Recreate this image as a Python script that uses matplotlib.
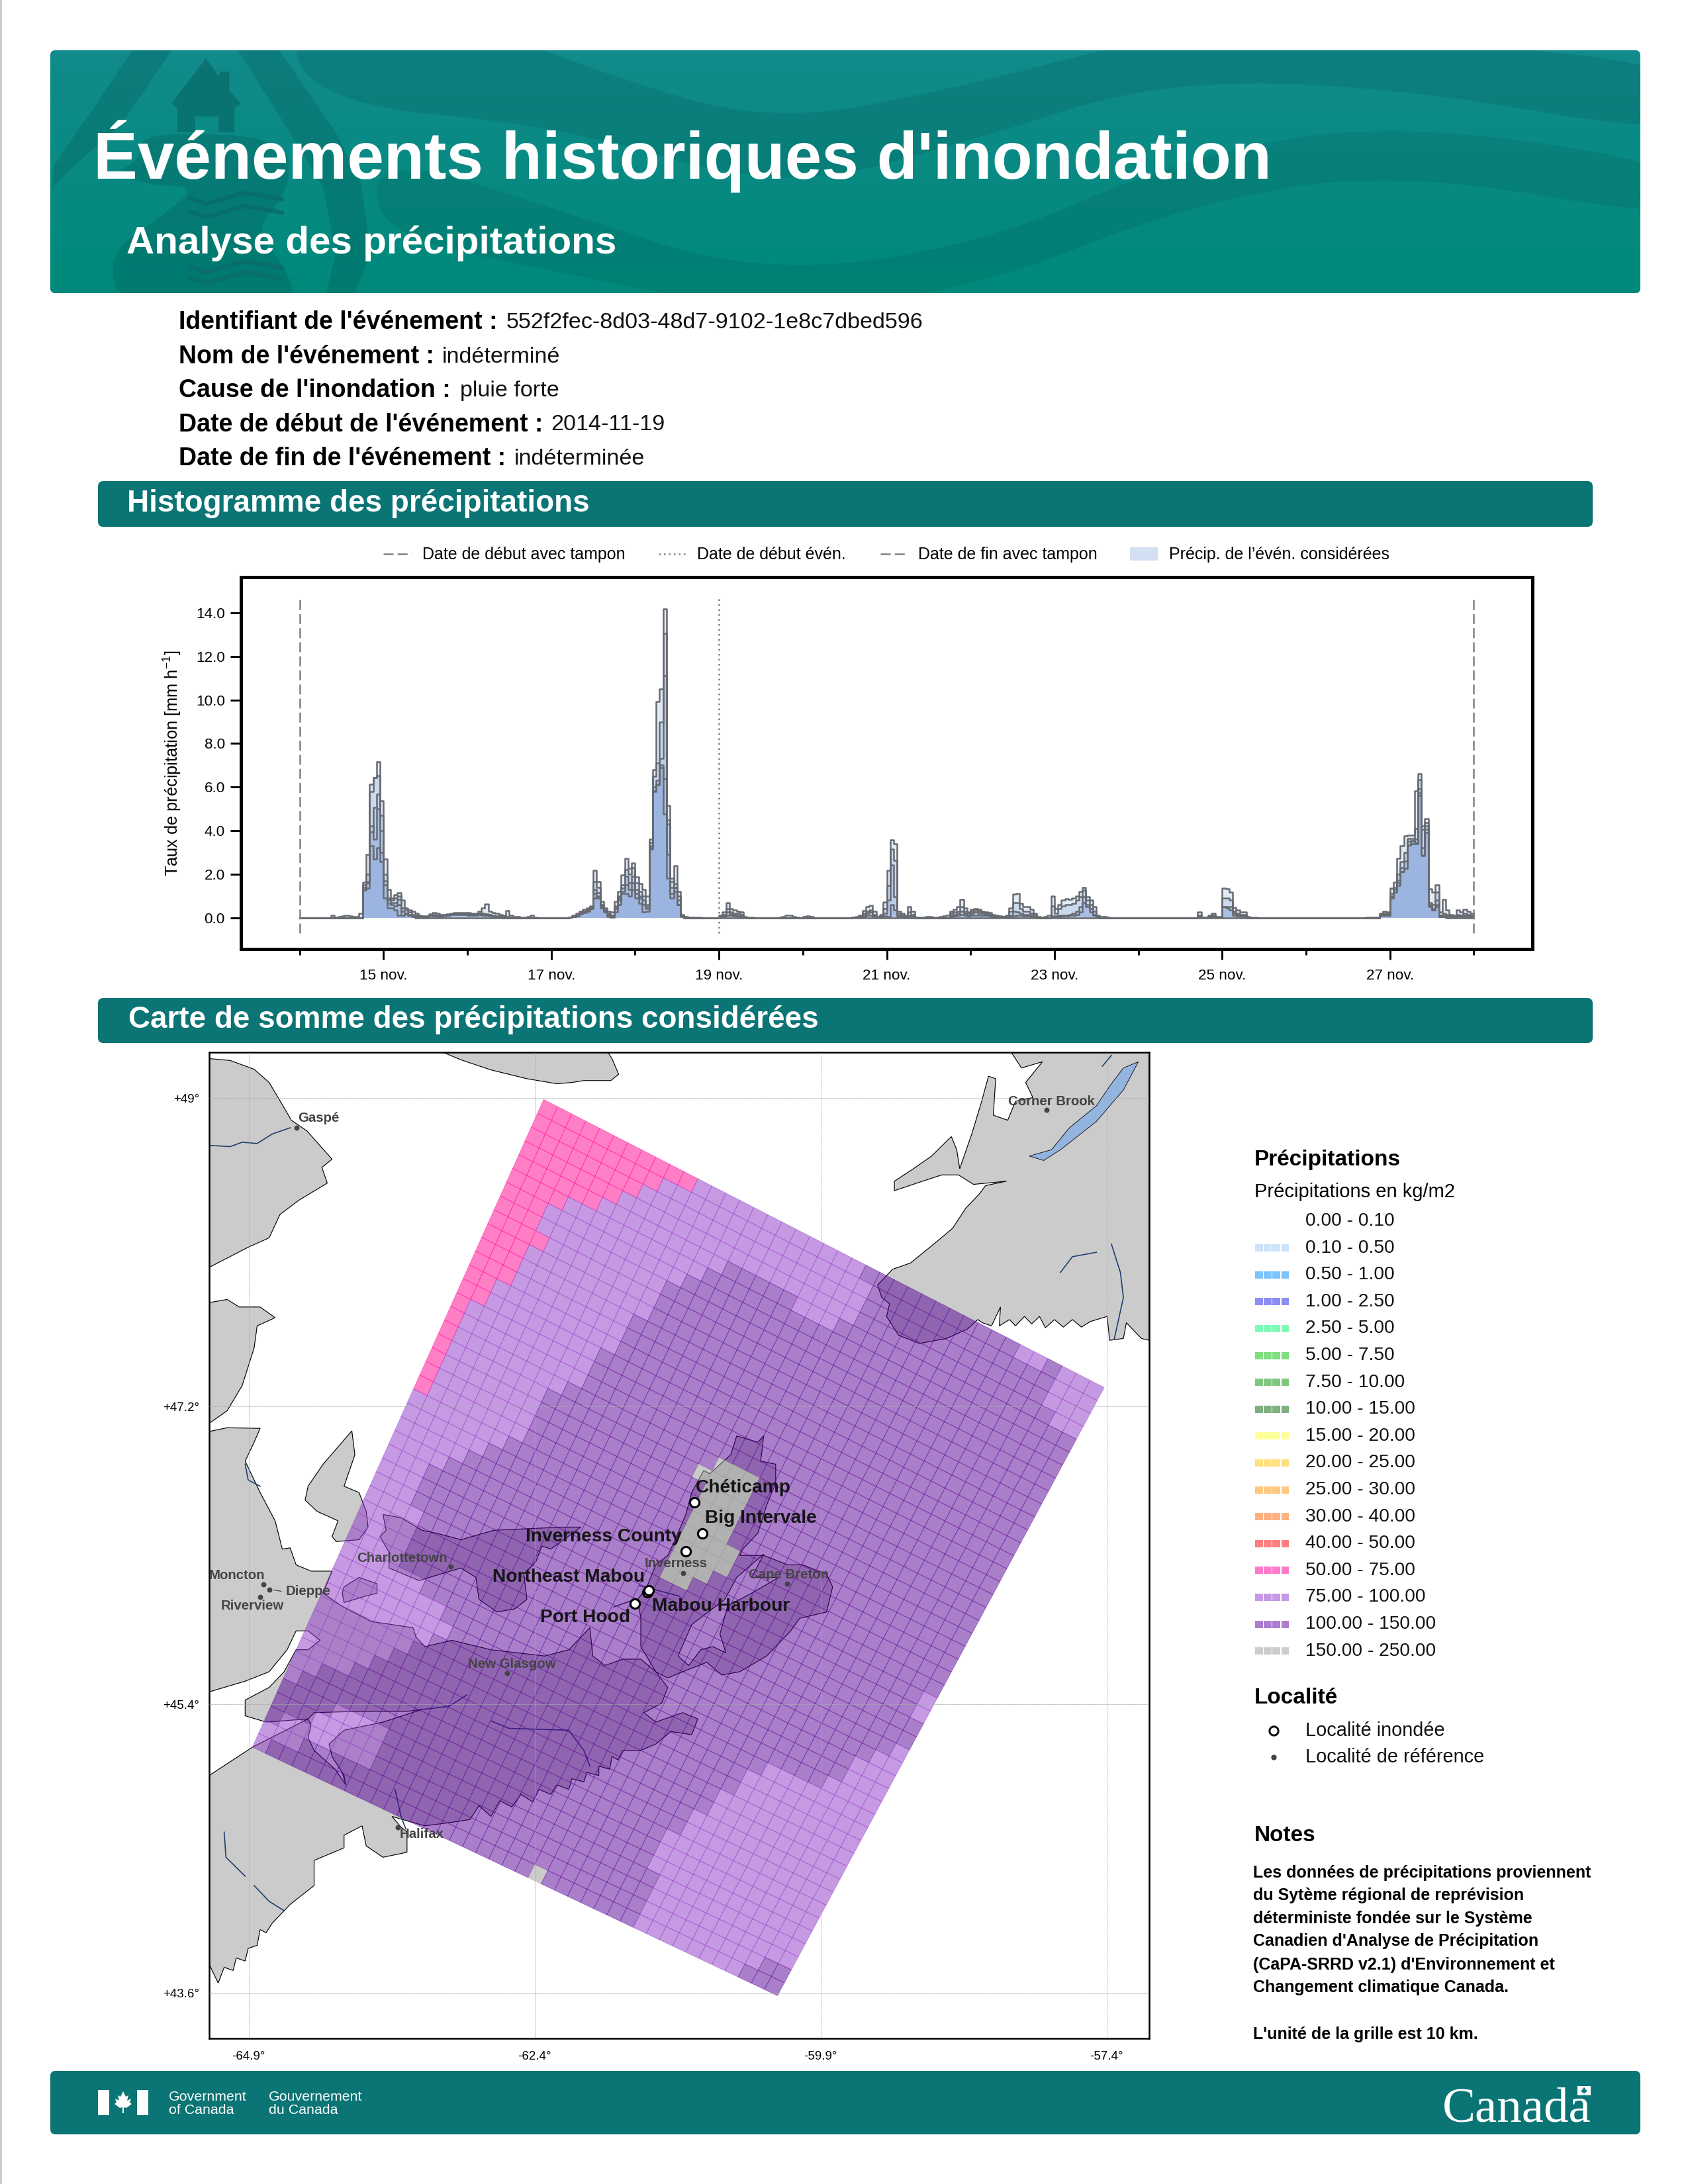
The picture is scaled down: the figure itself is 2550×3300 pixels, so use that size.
import re
import numpy as np
import matplotlib
matplotlib.use('Agg')
import matplotlib.pyplot as plt
from matplotlib.collections import PolyCollection
from matplotlib.patches import FancyBboxPatch, Polygon, Rectangle

plt.rcParams['font.family'] = ['Liberation Sans', 'DejaVu Sans']
plt.rcParams['mathtext.default'] = 'regular'

W, H = 2550, 3300
TEAL = '#0b7474'

# hourly rain, one list per locality, {first hour: values}, 0 elsewhere
series_a = {9: [.12, .03, .05, .08, .1, .08, .05, .06, .2],
            18: [1.64, 2.92, 6.13, 6.43, 7.17, 5.37, 2.7, 1.29, .91, 1.06, 1.14, .81, .45, .35, .3, .2, .12, .08, .05, .1, .22, .2, .15, .12, .12, .2, .22, .22, .22, .22, .22, .2, .18, .18, .45, .64, .3, .22, .2, .15, .1, .32, .12, .05, .05, .03, .03, .05, .1, .03],
            77: [.03, .1, .2, .3, .37, .45, .55, 2.18, 1.67, .76, .45, .3, .25, .76, 1.2, 1.97, 2.73, 2.28, 2.5, 1.87, 1.57, 1.3, 1.0, 3.6, 6.8, 9.93, 10.5, 14.18, 5.17, 1.67, 2.38, 1.0, .15, .05, .03, .01, .03, .01],
            120: [.1, .25, .69, .4, .35, .3, .25, .05, .02, .01],
            137: [.02, .05, .1, .1, .05, .02], 144: [.05, .08, .05],
            158: [.03, .06, .1, .32, .49, .56, .28, .06, .14, .73, 2.18, 3.57, 3.39, .3, .2, .1, .5, .28, .02, .01, .02, .05, .05, .03, .02, .05, .08, .1, .28, .37, .5, .83, .45, .25, .38, .42, .38, .3, .27, .22, .15, .1, .08, .06, .1, .43, 1.08, 1.11, .66, .49, .5, .37, .2, .05, .02, .05, .1, 1.0, .4, .6, .81, .86, .85, .9, 1.0, 1.2, 1.38, .95, .8, .5, .1, .05, .04, .03],
            257: [.25, .03, .03, .1, .2, .05, .05, 1.35, 1.32, 1.17, .46, .35, .25, .25, .05, .03, .01],
            305: [.02, .03, .02, .01, .2, .28, .25, 1.37, 1.62, 2.73, 3.3, 3.75, 3.8, 3.8, 5.83, 6.6, 4.2, 4.56, 1.32, 1.17, 1.52, .25, .84, .35, .15, .1, .35, .25, .38, .3, .2]}
series_b = {18: [1.5, 1.98, 5.78, 6.43, 6.53, 4.7, 1.98, .9, .8, .9, 1.0, .45, .35, .25, .15, .1, .05, .05, .08, .17, .14, .1, .1, .15, .18, .18, .18, .18, .18, .18, .16, .16, .2, .3, .2, .18, .15, .1, .08, .1, .1, .05, .03, .03],
            77: [.02, .08, .15, .25, .3, .38, .5, 1.67, 1.4, .6, .35, .2, .1, .55, 1.0, 1.5, 2.2, 2.0, 2.3, 1.6, 1.2, 1.0, .6, 3.45, 6.5, 7.1, 8.97, 13.07, 4.5, 1.4, 1.4, .6, .1, .03],
            120: [.05, .15, .4, .25, .2, .2, .15, .03],
            158: [.02, .03, .06, .2, .3, .35, .15, .03, .08, .4, 1.47, 3.14, 2.63, .2, .12, .05, .25, .15, .01],
            186: [.2, .25, .3, .5, .3, .2, .3, .35, .3, .25, .2, .18, .12, .08, .06, .05, .08, .3, .7, .7, .4, .3, .3, .2, .1, .03],
            215: [.55, .2, .4, .55, .6, .6, .65, .8, .95, 1.25, .8, .6, .3, .05],
            257: [.1, .02, .02, .05, .1, .03, .03, .9, .9, .8, .3, .2, .15, .15, .03],
            309: [.15, .2, .2, 1.1, 1.4, 2.0, 2.58, 3.0, 3.65, 3.65, 4.1, 6.33, 4.05, 4.35, .7, .6, 1.16, .1, .2, .15, .1, .05, .15, .1, .2, .15, .1]}
series_c = {18: [1.4, 1.67, 3.95, 5.07, 5.67, 3.0, 1.7, .65, .6, .55, .85, .1, .2, .15, .1, .05, .03, .03, .05, .12, .1, .08, .08, .1, .15, .16, .16, .16, .16, .16, .14, .14, .15, .2, .15, .12, .1, .08, .06, .05, .05],
            77: [.01, .05, .1, .2, .25, .33, .45, 1.3, 1.15, .5, .3, .1, .05, .4, .9, 1.2, 1.9, 1.3, 1.9, 1.3, 1.0, .6, .4, 3.2, 5.8, 6.1, 7.3, 11.1, 2.9, 1.1, 1.57, .8, .08],
            120: [.03, .1, .25, .18, .15, .12, .1, .02],
            158: [.01, .02, .04, .12, .2, .25, .1, .02, .05, .2, .8, 2.43, .96, .1, .08, .03, .12, .08],
            186: [.1, .15, .2, .3, .2, .12, .2, .25, .2, .2, .15, .12, .08, .05, .04, .03, .04, .1, .3, .25, .2, .15, .15, .1, .05],
            215: [.08, .08, .1, .12, .12, .15, .2, .3, .5, .95, .6, .4, .15, .03],
            257: [.05, .01, .01, .03, .05, .02, .02, .5, .5, .5, .2, .15, .1, .1, .02],
            309: [.12, .18, .15, .91, 1.16, 1.72, 2.13, 2.28, 3.34, 3.55, 3.45, 5.72, 2.89, 4.05, .56, .35, .6, .05, .1, .08, .05, .03, .1, .08, .1, .1, .05]}
series_d = {18: [1.27, 1.37, 3.3, 2.68, 3.2, 2.58, .9, .45, .45, .35, .1, .1, .2, .12, .08, .03, .02, .02, .03, .1, .08, .06, .06, .08, .12, .14, .14, .14, .14, .14, .12, .12, .12, .14, .1, .1, .08, .06, .05, .03],
            77: [.01, .04, .08, .18, .22, .3, .42, .9, 1.0, .45, .25, .05, .03, .25, .6, 1.1, 1.1, 1.0, 1.3, .9, .65, .25, .3, 3.14, 5.83, 6.13, 6.9, 6.38, 1.8, .9, 1.2, .6, .05],
            120: [.02, .05, .12, .1, .08, .06, .05, .01],
            158: [.01, .01, .02, .05, .1, .12, .05, .01, .03, .08, .05, .6, .35, .05, .04, .02, .05, .03],
            186: [.05, .08, .1, .15, .1, .08, .1, .12, .12, .12, .1, .08, .05, .04, .03, .02, .02, .04, .08, .1, .1, .08, .08, .05, .02],
            215: [.05, .05, .06, .07, .08, .1, .12, .15, .25, .7, .5, .25, .1, .02],
            257: [.03, .01, .01, .02, .03, .01, .01, .5, .45, .35, .1, .08, .05, .05],
            309: [.1, .15, .12, .91, 1.16, 1.47, 2.13, 2.28, 3.34, 3.4, 3.4, 5.6, 2.85, 3.9, .5, .35, .5, .05, .05, .05, .02, .02, .05, .05, .05, .05, .03]}
series_e = {18: [1.3, 1.6, 4.2, 3.6, 5.0, 4.0, 1.5, .8, .7, .7, .6, .3, .2, .1, .05],
            77: [.02, .06, .12, .22, .28, .35, .48, 1.1, .9, .55, .3, .15, .1, .5, .8, 1.35, 1.5, 1.6, 1.6, 1.1, .9, .8, .5, 3.3, 6.0, 6.3, 7.0, 4.76, 4.3, 1.8, 1.4, 1.2, .1],
            309: [.1, .12, .1, 1.0, 1.3, 1.6, 2.3, 2.6, 3.5, 3.5, 3.6, 5.9, 3.2, 4.2, .6, .4, .8, .05, .05]}
all_series = [series_a, series_b, series_c, series_d, series_e]

y_ticks = [0, 2, 4, 6, 8, 10, 12, 14]
day_labels = ['15 nov.', '17 nov.', '19 nov.', '21 nov.', '23 nov.', '25 nov.', '27 nov.']
day_ticks = [1, 3, 5, 7, 9, 11, 13]
minor_days = [0, 2, 4, 6, 8, 10, 12, 14]

legend_bins = ['0.00 - 0.10', '0.10 - 0.50', '0.50 - 1.00', '1.00 - 2.50', '2.50 - 5.00',
               '5.00 - 7.50', '7.50 - 10.00', '10.00 - 15.00', '15.00 - 20.00', '20.00 - 25.00',
               '25.00 - 30.00', '30.00 - 40.00', '40.00 - 50.00', '50.00 - 75.00', '75.00 - 100.00',
               '100.00 - 150.00', '150.00 - 250.00']
legend_colors = [None, '#cce3f9', '#7cc4fd', '#8c8cf5', '#7ffbb7', '#80dd80', '#7fc67f', '#80b080',
                 '#ffff99', '#ffe080', '#ffc880', '#ffb080', '#ff8080', '#ff7acc', '#c799e5', '#ac7dcf', '#cccccc']

# grid classes per row as runs, P 50-75, L 75-100, D 100-150, G 150-250
class_rgb = {'P': (1.0, 0.0, 0.57), 'L': (0.56, 0.21, 0.78), 'D': (0.34, 0.0, 0.59), 'G': (0.6, 0.6, 0.6)}
precip_rows = ['P11L12D11L2D1L3', 'P9L15D13L3', 'P8L16D13L3', 'P7L17D14L2', 'P6L9D5L3D17', 'P4L10D26', 'P3L10D27',
               'P3L9D28', 'P4L8D28', 'P3L9D28', 'P3L8D29', 'P3L8D29', 'P2L9D29', 'P2L8D30', 'P1L9D30', 'P1L9D30',
               'P1L8D11G3D17', 'P1L7D11G4D17', 'P1L7D12G3D17', 'P1L7D12G3D17', 'P1L7D12G3D17', 'L7D13G4D16',
               'L6D14G4D16', 'L5D15G3D17', 'L4D16G2D17L1', 'L3D36L1', 'L3D37', 'L3D37', 'L4D35L1', 'L4D34L2',
               'L4D33L3', 'L4D33L3', 'L6D30L4', 'L8D24L8', 'L9D22L9', 'L8D23L9', 'L7D23L10', 'L6D24L10', 'L5D24L11',
               'L4D25L11', 'L2D26L12', 'L1D27L12', 'D4L4D20L12', 'D3L5D21L11', 'D1L7D21L11', 'L3D26L9D2',
               'L1D20G1D7L8D3']
NU, NV = 40, 47
grid_top, grid_right, grid_bottom, grid_left = (558, 75), (1493, 533), (948, 1500), (72, 1105)

# coast outlines in map units
land_main = [(0, 603), (30, 597), (85, 598), (75, 620), (60, 650), (85, 700), (110, 745), (122, 790), (135, 788), (145, 815), (170, 825), (205, 825), (190, 860), (220, 880), (270, 905), (340, 915), (345, 930), (360, 945), (405, 935), (470, 950), (560, 960), (600, 950), (635, 915), (640, 960), (660, 975), (690, 965), (720, 965), (745, 985), (765, 1010), (755, 1035), (725, 1050), (745, 1065), (790, 1050), (815, 1060), (805, 1085), (770, 1080), (745, 1100), (720, 1110), (690, 1110), (682, 1125), (672, 1120), (668, 1140), (650, 1135), (650, 1150), (630, 1145), (625, 1160), (605, 1155), (600, 1172), (580, 1165), (570, 1180), (550, 1172), (540, 1192), (520, 1180), (505, 1200), (485, 1190), (470, 1215), (450, 1198), (435, 1220), (400, 1225), (360, 1230), (330, 1222), (305, 1215), (320, 1232), (330, 1240), (330, 1272), (290, 1280), (262, 1262), (255, 1230), (225, 1245), (225, 1265), (175, 1285), (175, 1325), (135, 1355), (105, 1385), (95, 1400), (85, 1395), (80, 1420), (65, 1425), (60, 1445), (45, 1440), (40, 1460), (25, 1455), (15, 1480), (0, 1450), (0, 1150), (72, 1105), (165, 1060), (95, 1065), (60, 1055), (60, 1030), (100, 1010), (125, 985), (145, 950), (165, 950), (185, 935), (165, 920), (145, 920), (130, 950), (100, 985), (60, 1000), (0, 1017)]
land_gaspe = [(0, 10), (35, 13), (75, 27), (100, 48), (120, 80), (137, 108), (163, 125), (205, 170), (188, 183), (197, 208), (150, 235), (118, 258), (100, 295), (65, 310), (0, 342)]
land_anticosti = [(390, 0), (420, 12), (470, 28), (530, 42), (580, 50), (605, 48), (625, 45), (670, 45), (683, 35), (672, 10), (665, 0)]
land_nfld = [(1338, 0), (1355, 25), (1390, 15), (1362, 48), (1374, 72), (1345, 78), (1332, 108), (1308, 100), (1312, 42), (1300, 38), (1288, 80), (1272, 130), (1252, 185), (1247, 155), (1238, 134), (1205, 165), (1175, 185), (1143, 205), (1143, 220), (1190, 205), (1222, 195), (1250, 195), (1275, 210), (1330, 205), (1295, 212), (1285, 225), (1262, 248), (1240, 280), (1215, 300), (1170, 335), (1140, 345), (1115, 370), (1122, 390), (1135, 400), (1130, 420), (1150, 450), (1185, 463), (1230, 455), (1265, 440), (1282, 425), (1290, 430), (1305, 435), (1320, 405), (1318, 435), (1335, 425), (1345, 435), (1360, 420), (1372, 432), (1385, 420), (1395, 438), (1410, 425), (1425, 437), (1440, 425), (1455, 437), (1470, 428), (1498, 420), (1502, 458), (1525, 455), (1530, 430), (1555, 455), (1568, 458), (1568, 0)]
land_north_nb = [(0, 398), (30, 393), (50, 405), (85, 405), (110, 422), (80, 435), (75, 470), (55, 530), (30, 570), (0, 590)]
land_magdalen = [(160, 712), (165, 690), (190, 655), (238, 602), (243, 640), (225, 690), (250, 700), (262, 730), (265, 755), (250, 775), (212, 778), (205, 770), (215, 745), (180, 730)]
land_pei = [(290, 735), (320, 740), (355, 760), (380, 765), (420, 775), (475, 760), (590, 755), (620, 755), (570, 790), (555, 785), (545, 810), (525, 830), (530, 870), (510, 885), (480, 890), (450, 870), (445, 835), (420, 820), (385, 830), (350, 840), (300, 820), (300, 795), (285, 770), (295, 760)]
land_blob = [(225, 850), (250, 835), (280, 845), (280, 860), (260, 865), (225, 875), (222, 860)]
land_breton = [(880, 610), (915, 620), (925, 610), (920, 650), (945, 655), (945, 685), (930, 720), (915, 765), (890, 790), (885, 800), (925, 800), (965, 815), (990, 815), (1030, 830), (1040, 850), (1030, 890), (985, 900), (970, 920), (930, 960), (885, 985), (855, 990), (830, 970), (790, 985), (765, 995), (745, 985), (720, 945), (720, 900), (715, 870), (730, 850), (745, 815), (765, 800), (775, 780), (795, 735), (805, 700), (825, 665), (835, 670), (870, 640)]
water_minas = [(165, 1060), (175, 1050), (250, 1048), (330, 1048), (355, 1045), (290, 1065), (225, 1078), (200, 1100), (205, 1120), (225, 1150), (228, 1165), (210, 1140), (175, 1110), (165, 1090), (170, 1070)]
water_brasdor = [(782, 960), (805, 910), (860, 870), (880, 835), (925, 798), (905, 835), (950, 835), (905, 860), (865, 880), (852, 925), (862, 955), (840, 945), (820, 950), (800, 975)]
lake_deer = [(1368, 165), (1392, 172), (1420, 155), (1480, 110), (1525, 60), (1550, 15), (1525, 25), (1505, 50), (1480, 85), (1435, 120), (1405, 155)]
rivers = [[(355, 1045), (400, 1040), (430, 1022)], [(470, 1063), (500, 1075), (600, 1078), (625, 1110), (635, 1135)],
          [(310, 1172), (320, 1215), (328, 1235)], [(222, 1145), (228, 1165)],
          [(0, 148), (35, 150), (55, 143), (80, 145), (105, 130), (135, 120)],
          [(1420, 350), (1440, 325), (1480, 318)], [(1505, 305), (1520, 350), (1525, 390), (1510, 455)],
          [(1490, 22), (1505, 5)], [(25, 1240), (28, 1280), (60, 1310)], [(75, 1325), (100, 1350), (125, 1365)],
          [(60, 655), (65, 680), (85, 690)], [(718, 848), (785, 865)], [(675, 882), (710, 870)]]

ref_names = ['Gaspé', 'Corner Brook', 'Moncton', 'Dieppe', 'Riverview', 'Charlottetown', 'Inverness', 'Cape Breton', 'New Glasgow', 'Halifax']
ref_x = [146, 1397, 90, 100, 85, 403, 791, 964, 497, 315]
ref_y = [120, 92, 846, 855, 866, 818, 828, 845, 987, 1232]
ref_tx = [183, 1405, 46, 165, 72, 322, 779, 967, 505, 355]
ref_ty = [105, 78, 832, 857, 880, 804, 813, 831, 973, 1243]
flood_names = ['Chéticamp', 'Big Intervale', 'Inverness County', 'Northeast Mabou', 'Mabou Harbour', 'Port Hood']
flood_x = [809, 823, 795, 731, 733, 710]
flood_y = [716, 765, 793, 859, 856, 877]
flood_tx = [891, 920, 658, 600, 854, 627]
flood_ty = [690, 739, 768, 832, 879, 897]

lon_ticks = [-64.9, -62.4, -59.9, -57.4]
lat_ticks = [49.0, 47.2, 45.4, 43.6]
lat_labels = ['+49°', '+47.2°', '+45.4°', '+43.6°']

notes = ["Les données de précipitations proviennent", "du Sytème régional de reprévision",
         "déterministe fondée sur le Système", "Canadien d'Analyse de Précipitation",
         "(CaPA-SRRD v2.1) d'Environnement et", "Changement climatique Canada."]
note_y = [2830, 2864, 2899, 2933, 2969, 3003]

info_labels = ["Identifiant de l'événement :", "Nom de l'événement :", "Cause de l'inondation :",
               "Date de début de l'événement :", "Date de fin de l'événement :"]
info_values = ['552f2fec-8d03-48d7-9102-1e8c7dbed596', 'indéterminé', 'pluie forte', '2014-11-19', 'indéterminée']
info_value_x = [765, 668, 695, 832, 777]
info_y = [487, 539, 590, 642, 693]

fig = plt.figure(figsize=(W / 300, H / 300), dpi=300)
bg = fig.add_axes([0, 0, 1, 1])
bg.axis('off')


def px_axes(x0, y0, x1, y1):
    return fig.add_axes([x0 / W, 1 - y1 / H, (x1 - x0) / W, (y1 - y0) / H])


def rounded(x0, y0, x1, y1, color, z=1):
    p = FancyBboxPatch((x0, y0), x1 - x0, y1 - y0, boxstyle='round,pad=0,rounding_size=8', fc=color, ec='none', zorder=z)
    bg.add_patch(p)
    return p


def vertex(i, j):
    u, v = i / NU, j / NV
    top = (1 - u) * np.array(grid_top) + u * np.array(grid_right)
    bot = (1 - u) * np.array(grid_left) + u * np.array(grid_bottom)
    return (1 - v) * top + v * bot


def z6(pts):
    return [(.957 * x, 50 + .333 * y) for x, y in pts]


def ov(pts):
    return [(2.107 * x, 2.107 * y) for x, y in pts]


def smooth(pts, n=3):
    # corner cutting, keeps the header waves from looking faceted
    p = np.array(pts, float)
    for _ in range(n):
        q = np.roll(p, -1, axis=0)
        p = np.column_stack([.75 * p + .25 * q, .25 * p + .75 * q]).reshape(-1, 2)
    return p


def merc(lat):
    return np.log(np.tan(np.pi / 4 + np.radians(lat) / 2))


# header
head = rounded(76, 76, 2478, 443, '#108a8a')
grad = np.linspace(0, 1, 64)[:, None, None] * (np.array([0, 137, 123]) - np.array([17, 139, 139])) + np.array([17, 139, 139])
im = bg.imshow(grad / 255, extent=(76, 2478, 443, 76), aspect='auto', zorder=1)
im.set_clip_path(head)


def shade(pts, alpha):
    p = Polygon(pts, closed=True, fc='#004040', ec='none', alpha=alpha, zorder=2)
    bg.add_patch(p)
    p.set_clip_path(head)


shade(smooth(ov([(200, 20), (232, 75), (400, 90), (560, 137), (700, 100), (830, 58), (1000, 62), (1220, 100), (1220, 50), (1050, 30), (850, 20), (680, 65), (550, 88), (430, 52), (350, 20)])), .15)
shade(smooth(ov([(270, 110), (400, 150), (540, 197), (700, 177), (850, 112), (1000, 87), (1220, 120), (1220, 160), (1000, 122), (850, 147), (700, 207), (550, 225), (400, 195), (270, 168)])), .13)
shade(z6([(210, 75), (272, 75), (190, 420), (110, 620), (82, 700), (85, 600), (150, 330)]), .2)
shade(z6([(375, 75), (440, 75), (530, 450), (570, 680), (585, 1000), (560, 1180), (515, 1180), (530, 1000), (510, 700), (440, 370)]), .2)
shade(smooth(z6([(225, 450), (450, 470), (460, 700), (400, 900), (450, 1050), (470, 1250), (190, 1250), (170, 1000), (260, 820), (310, 700), (240, 690), (180, 640), (225, 560)]), 2), .2)
shade(z6([(325, 115), (345, 195), (348, 175), (362, 175), (362, 260), (380, 320), (370, 340), (370, 450), (345, 450), (345, 378), (308, 378), (308, 450), (280, 450), (280, 340), (270, 320)]), .3)
for wy in [730, 790, 1040, 1090]:
    wx = np.array([0, 25, 50, 85, 120, 145])
    wv = np.array([20, 45, 25, -5, 10, 25])
    bg.plot(.957 * (wx + 300), 50 + .333 * (wy + wv), color='#0a6c6c', lw=1.6, alpha=.8, zorder=2, solid_capstyle='round')

bg.text(141, 270, "Événements historiques d'inondation", color='white', fontsize=24, fontweight='bold', va='baseline', zorder=5)
bg.text(191, 383, 'Analyse des précipitations', color='white', fontsize=14, fontweight='bold', va='baseline', zorder=5)

for lab, val, vx, yy in zip(info_labels, info_values, info_value_x, info_y):
    bg.text(270, yy, lab, fontsize=9, fontweight='bold', va='center')
    bg.text(vx, yy, val, fontsize=8.2, va='center', color='#111111')

rounded(148, 727, 2406, 796, TEAL)
bg.text(192, 761, 'Histogramme des précipitations', color='white', fontsize=11, fontweight='bold', va='center', zorder=5)
rounded(148, 1508, 2406, 1576, TEAL)
bg.text(194, 1541, 'Carte de somme des précipitations considérées', color='white', fontsize=11, fontweight='bold', va='center', zorder=5)

# histogram legend, drawn by hand in page units
bg.plot([579, 622], [837, 837], color='#808080', lw=.6, ls=(0, (6, 2.5)))
bg.text(638, 838, 'Date de début avec tampon', fontsize=6.0, va='center')
bg.plot([995, 1037], [837, 837], color='#808080', lw=.6, ls=(0, (1, 2)))
bg.text(1053, 838, 'Date de début évén.', fontsize=6.0, va='center')
bg.plot([1330, 1372], [837, 837], color='#808080', lw=.6, ls=(0, (6, 2.5)))
bg.text(1387, 838, 'Date de fin avec tampon', fontsize=6.0, va='center')
bg.add_patch(Rectangle((1707, 827), 42, 20, fc='#d3dff3', ec='none'))
bg.text(1766, 838, "Précip. de l’évén. considérées", fontsize=6.0, va='center')

# histogram
ax = px_axes(364, 872, 2315, 1434)
days = np.arange(0, 337) / 24
for series in all_series:
    vals = np.zeros(337)
    for start, seg in series.items():
        vals[start:start + len(seg)] = seg
    ax.fill_between(days, vals, step='post', color=(.39, .55, .82), alpha=.18, lw=0, zorder=2)
    ax.step(days, vals, where='post', color='#666a70', lw=.6, zorder=3)
ax.vlines([0, 14], -.7, 14.8, color='#808080', lw=.6, linestyles=[(0, (6, 2.5))], zorder=4)
ax.vlines([5], -.7, 14.8, color='#808080', lw=.6, linestyles=[(0, (1, 2))], zorder=4)
ax.set_xlim(-.7, 14.7)
ax.set_ylim(-1.44, 15.64)
ax.set_yticks(y_ticks)
ax.set_yticklabels(['%.1f' % v for v in y_ticks], fontsize=5.4)
ax.set_xticks(day_ticks)
ax.set_xticklabels(day_labels, fontsize=5.4)
ax.set_xticks(minor_days, minor=True)
ax.tick_params(axis='y', which='major', length=3.8, width=.7, pad=2)
ax.tick_params(axis='x', which='major', length=3.8, width=.7, pad=3.5)
ax.tick_params(axis='x', which='minor', length=2.2, width=.7)
ax.set_ylabel('Taux de précipitation [mm h$^{-1}$]', fontsize=6.1, labelpad=4.5)
for s in ax.spines.values():
    s.set_linewidth(1.2)

# map, in map units of the frame
mp = px_axes(316, 1590, 1736, 3080)
mp.set_xlim(0, 1568)
mp.set_ylim(1568, 0)
for s in mp.spines.values():
    s.set_linewidth(.6)
for poly in [land_main, land_gaspe, land_anticosti, land_nfld, land_north_nb, land_magdalen, land_pei, land_blob, land_breton]:
    mp.add_patch(Polygon(poly, closed=True, fc='#cbcbcb', ec='black', lw=.28, zorder=1))
for poly in [water_minas, water_brasdor]:
    mp.add_patch(Polygon(poly, closed=True, fc='white', ec='black', lw=.28, zorder=1.5))
mp.add_patch(Polygon(lake_deer, closed=True, fc='#94b4e0', ec='black', lw=.2, zorder=1.5))
for r in rivers:
    xs, ys = zip(*r)
    mp.plot(xs, ys, color='#1f3f6f', lw=.4, zorder=1.6)

verts, faces, edges = [], [], []
for j, row in enumerate(precip_rows):
    i = 0
    for k, n in re.findall(r'([PLDG])(\d+)', row):
        for _ in range(int(n)):
            verts.append([vertex(i, j), vertex(i + 1, j), vertex(i + 1, j + 1), vertex(i, j + 1)])
            faces.append(class_rgb[k] + (.5,))
            edges.append(class_rgb[k] + (.42,))
            i += 1
mp.add_collection(PolyCollection(verts, facecolors=faces, edgecolors=edges, linewidths=.22, zorder=3))

lon_pos = [66 + (v + 64.9) * 190.8 for v in lon_ticks]
lat_scale = (1496 - 73) / (merc(49.0) - merc(43.6))
lat_pos = [73 + (merc(49.0) - merc(v)) * lat_scale for v in lat_ticks]
for v in lon_pos:
    mp.axvline(v, color='#aaaaaa', lw=.2, ls=(0, (1, .5)), zorder=4)
for v in lat_pos:
    mp.axhline(v, color='#aaaaaa', lw=.2, ls=(0, (1, .5)), zorder=4)
mp.set_xticks(lon_pos)
mp.set_xticklabels(['%.1f°' % v for v in lon_ticks], fontsize=4.5)
mp.set_yticks(lat_pos)
mp.set_yticklabels(lat_labels, fontsize=4.5)
mp.tick_params(length=0, pad=3.5)
mp.tick_params(axis='x', pad=4.6)

mp.plot(ref_x, ref_y, 'o', color='#444444', ms=1.9, mew=0, zorder=5)
mp.plot([108, 120], [855, 857], color='#444444', lw=.3, zorder=5)
for n, tx, ty in zip(ref_names, ref_tx, ref_ty):
    mp.text(tx, ty, n, color='#444444', fontsize=4.9, fontweight='bold', ha='center', va='center', zorder=6)
mp.plot(flood_x, flood_y, 'o', mfc='white', mec='black', ms=3.4, mew=.75, zorder=7)
for n, tx, ty in zip(flood_names, flood_tx, flood_ty):
    mp.text(tx, ty + 2, n, color='#151515', fontsize=6.75, fontweight='bold', ha='center', va='center', zorder=8)

# legend column
bg.text(1895, 1752, 'Précipitations', fontsize=8, fontweight='bold', va='center')
bg.text(1895, 1801, 'Précipitations en kg/m2', fontsize=7.0, va='center')
for n, (lab, col) in enumerate(zip(legend_bins, legend_colors)):
    yy = 1845 + n * 40.6
    if col:
        for q in range(4):
            bg.add_patch(Rectangle((1896 + q * 13.2, yy - 5.5), 11.5, 11, fc=col, ec='none'))
    bg.text(1972, yy, lab, fontsize=6.75, va='center', color='#111111')
bg.text(1895, 2565, 'Localité', fontsize=8, fontweight='bold', va='center')
bg.plot([1924], [2615], 'o', mfc='white', mec='black', ms=3.2, mew=.7)
bg.text(1972, 2615, 'Localité inondée', fontsize=6.95, va='center', color='#111111')
bg.plot([1924], [2655], 'o', color='#444444', ms=2, mew=0)
bg.text(1972, 2655, 'Localité de référence', fontsize=6.95, va='center', color='#111111')
bg.text(1895, 2773, 'Notes', fontsize=8, fontweight='bold', va='center')
for line, yy in zip(notes, note_y):
    bg.text(1893, yy, line, fontsize=6.0, fontweight='bold', va='center')
bg.text(1893, 3074, "L'unité de la grille est 10 km.", fontsize=6.0, fontweight='bold', va='center')

# footer
rounded(76, 3129, 2478, 3225, TEAL)
bg.add_patch(Rectangle((148, 3158), 17, 38, fc='white', ec='none', zorder=5))
bg.add_patch(Rectangle((207, 3158), 17, 38, fc='white', ec='none', zorder=5))
leaf = np.array([(0, -16), (4, -8), (8, -10), (6, -2), (12, -5), (10, 1), (13, 3), (5, 9), (1, 8), (1, 17), (-1, 17), (-1, 8), (-5, 9), (-13, 3), (-10, 1), (-12, -5), (-6, -2), (-8, -10), (-4, -8)], float)
bg.add_patch(Polygon(leaf + (186, 3176), closed=True, fc='white', ec='none', zorder=5))
bg.text(255, 3168, 'Government', color='white', fontsize=5.15, va='center', zorder=5)
bg.text(255, 3188, 'of Canada', color='white', fontsize=5.15, va='center', zorder=5)
bg.text(406, 3168, 'Gouvernement', color='white', fontsize=5.15, va='center', zorder=5)
bg.text(406, 3188, 'du Canada', color='white', fontsize=5.15, va='center', zorder=5)
bg.text(2179, 3205, 'Canada', color='white', fontsize=18, family='Liberation Serif', va='baseline', zorder=5)
bg.add_patch(Rectangle((2383, 3152), 20, 14, fc='white', ec='none', zorder=5))
bg.add_patch(Polygon(leaf * .35 + (2393, 3159), closed=True, fc=TEAL, ec='none', zorder=6))
bg.add_patch(Rectangle((0, 0), 3, H, fc='#cccccc', ec='none', zorder=5))

bg.set_xlim(0, W)
bg.set_ylim(H, 0)
fig.savefig('out.png', dpi=300)
